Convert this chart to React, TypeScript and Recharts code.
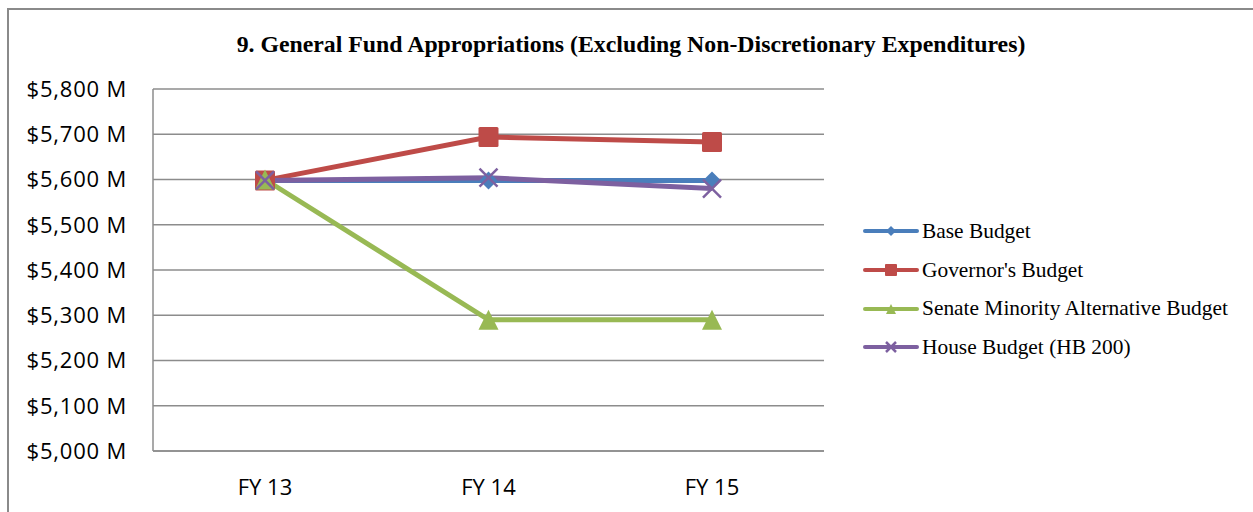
import React from 'react';
import { LineChart, Line, XAxis, YAxis, CartesianGrid } from 'recharts';

const categories = ['FY 13', 'FY 14', 'FY 15'];
const baseBudget = [5598, 5598, 5598];
const governorsBudget = [5598, 5694, 5683];
const senateMinorityBudget = [5600, 5290, 5290];
const houseBudget = [5598, 5604, 5580];
const yTicks = [5000, 5100, 5200, 5300, 5400, 5500, 5600, 5700, 5800];

const seriesNames = ['Base Budget', "Governor's Budget", 'Senate Minority Alternative Budget', 'House Budget (HB 200)'];
const seriesKeys = ['base', 'governor', 'senate', 'house'];
const seriesColors = ['#4a7ebb', '#be4b48', '#98b954', '#7d60a0'];
const seriesMarkers = ['diamond', 'square', 'triangle', 'x'];

const data = categories.map((c, i) => ({
  cat: c,
  base: baseBudget[i],
  governor: governorsBudget[i],
  senate: senateMinorityBudget[i],
  house: houseBudget[i],
}));

function Marker({ type, cx, cy, color, s }: { type: string; cx: number; cy: number; color: string; s: number }) {
  if (type === 'diamond') {
    return <path d={`M${cx},${cy - s} L${cx + s},${cy} L${cx},${cy + s} L${cx - s},${cy} Z`} fill={color} />;
  }
  if (type === 'square') {
    return <rect x={cx - s} y={cy - s} width={2 * s} height={2 * s} rx={s * 0.15} fill={color} />;
  }
  if (type === 'triangle') {
    return <path d={`M${cx},${cy - s} L${cx + s},${cy + s} L${cx - s},${cy + s} Z`} fill={color} />;
  }
  return (
    <g stroke={color} strokeWidth={2.5}>
      <line x1={cx - s} y1={cy - s} x2={cx + s} y2={cy + s} />
      <line x1={cx - s} y1={cy + s} x2={cx + s} y2={cy - s} />
    </g>
  );
}

const markerSize: Record<string, number> = { diamond: 9, square: 10, triangle: 10, x: 9 };
const legendMarkerSize: Record<string, number> = { diamond: 5, square: 6, triangle: 5, x: 5 };

function makeDot(type: string, color: string) {
  return (props: any) => {
    const { cx, cy, index } = props;
    if (cx == null || cy == null) return <g key={`dot-${type}-${index}`} />;
    return (
      <g key={`dot-${type}-${index}`}>
        <Marker type={type} cx={cx} cy={cy} color={color} s={markerSize[type]} />
      </g>
    );
  };
}

export default function App() {
  return (
    <div style={{ position: 'absolute', left: 0, top: 0, width: 1253, height: 512, overflow: 'hidden', background: '#fff' }}>
      <div style={{ position: 'absolute', left: 7, top: 8, width: 1400, height: 700, border: '2px solid #8a8a8a', boxSizing: 'border-box' }} />
      <div
        style={{
          position: 'absolute',
          left: 0,
          top: 29,
          width: 1262,
          textAlign: 'center',
          fontFamily: '"Liberation Serif", "Times New Roman", serif',
          fontWeight: 'bold',
          fontSize: 23.8,
          color: '#000',
          lineHeight: '30px',
        }}
      >
        9. General Fund Appropriations (Excluding Non-Discretionary Expenditures)
      </div>
      <div style={{ position: 'absolute', left: 0, top: 0 }}>
        <LineChart width={1253} height={512} data={data} margin={{ top: 89, right: 429, bottom: 31, left: 8 }}>
          <CartesianGrid vertical={false} stroke="#8c8c8c" strokeWidth={1.5} />
          <XAxis
            dataKey="cat"
            height={30}
            padding={{ left: 112, right: 112 }}
            tickSize={0}
            tickMargin={28}
            axisLine={{ stroke: '#8c8c8c', strokeWidth: 1.5 }}
            tick={{ fill: '#000', fontSize: 22, fontFamily: '"Open Sans", sans-serif' }}
          />
          <YAxis
            width={145}
            domain={[5000, 5800]}
            ticks={yTicks}
            interval={0}
            tickSize={0}
            tickMargin={26}
            axisLine={{ stroke: '#8c8c8c', strokeWidth: 1.5 }}
            tickFormatter={(v: number) => `$${v.toLocaleString('en-US')} M`}
            tick={{ fill: '#000', fontSize: 22, fontFamily: '"Open Sans", sans-serif', letterSpacing: 0.8 }}
          />
          {seriesKeys.map((k, i) => (
            <Line
              key={k}
              type="linear"
              dataKey={k}
              name={seriesNames[i]}
              stroke={seriesColors[i]}
              strokeWidth={5}
              dot={makeDot(seriesMarkers[i], seriesColors[i])}
              activeDot={false}
              isAnimationActive={false}
            />
          ))}
        </LineChart>
      </div>
      <div style={{ position: 'absolute', left: 860, top: 212 }}>
        {seriesNames.map((n, i) => (
          <div key={n} style={{ display: 'flex', alignItems: 'center', height: 38.7 }}>
            <svg width={62} height={20} style={{ display: 'block' }}>
              <line x1={5} y1={10} x2={57} y2={10} stroke={seriesColors[i]} strokeWidth={4} strokeLinecap="round" />
              <Marker type={seriesMarkers[i]} cx={31} cy={10} color={seriesColors[i]} s={legendMarkerSize[seriesMarkers[i]]} />
            </svg>
            <span
              style={{
                fontFamily: '"Liberation Serif", "Times New Roman", serif',
                fontSize: 21.4,
                color: '#000',
                whiteSpace: 'nowrap',
              }}
            >
              {n}
            </span>
          </div>
        ))}
      </div>
    </div>
  );
}
